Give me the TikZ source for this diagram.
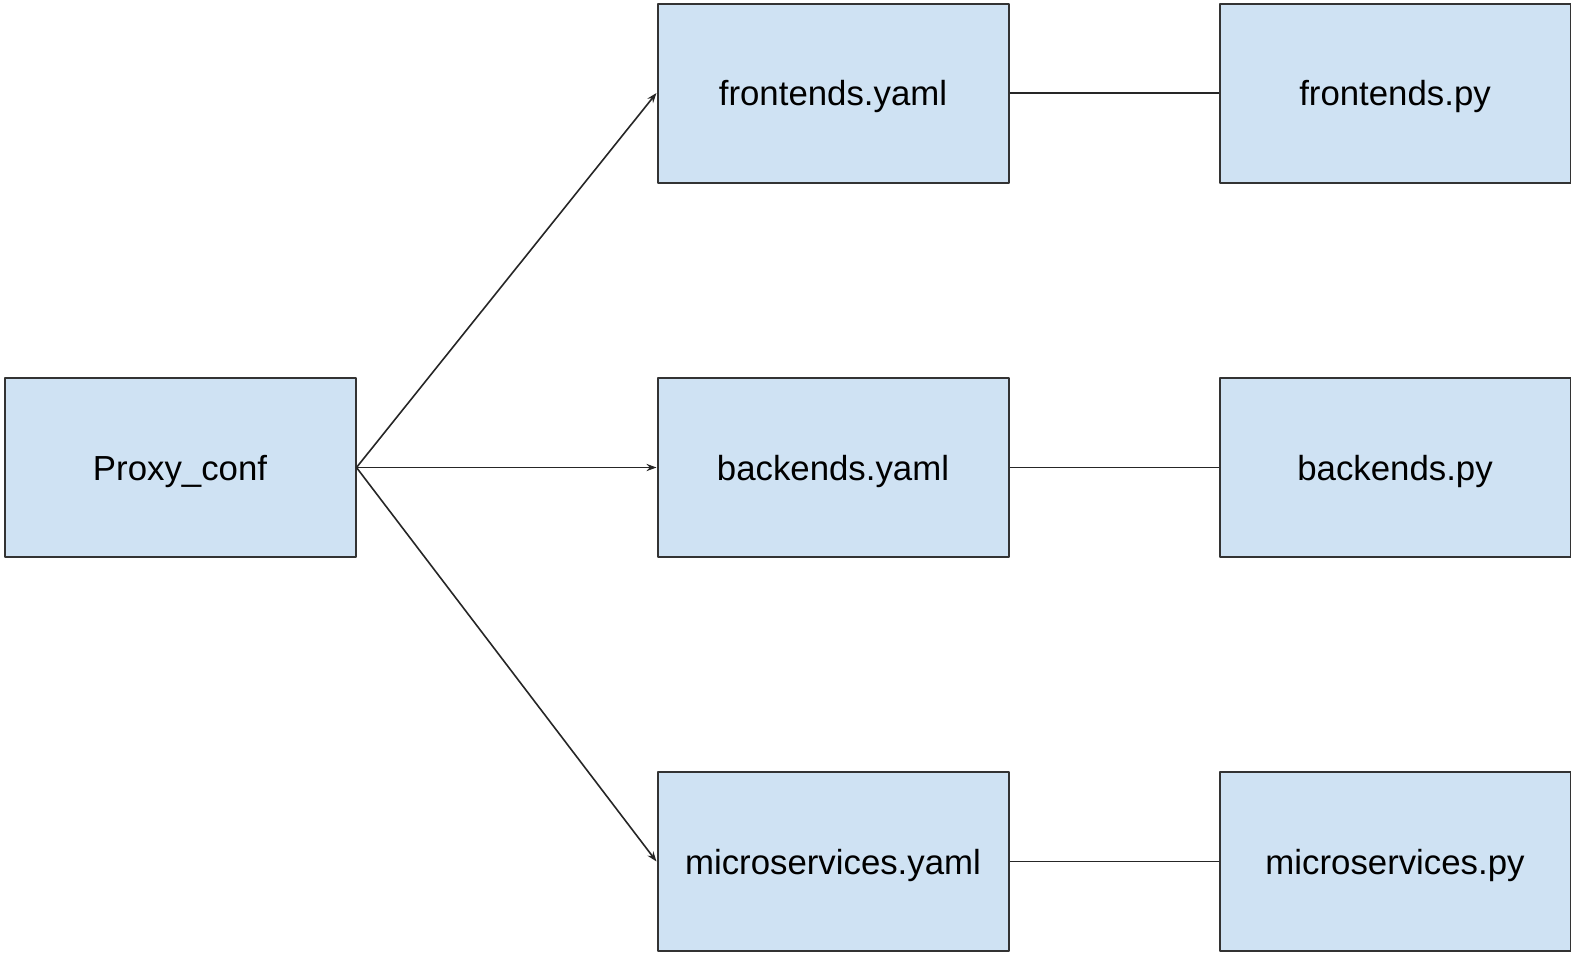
\documentclass[tikz,border=0pt]{standalone}
\usepackage{fontspec}
\setmainfont{Liberation Sans}
\usetikzlibrary{arrows.meta}
\begin{document}
\begin{tikzpicture}[x=0.5pt,y=-0.5pt,>={Stealth[length=5pt,width=3.6pt]},line join=round,
	box/.style={draw=black!80,line width=1pt,fill=boxblue,minimum width=175.5pt,minimum height=89.5pt,inner sep=0pt,text height=12.5pt,text depth=0pt,font=\fontsize{17.4}{20}\selectfont},
	link/.style={draw=black!85,line width=0.8pt}]
		\definecolor{boxblue}{HTML}{CFE2F3}
		\useasboundingbox (0,0) rectangle (1571,954);
		\node[box] (proxy) at (180,467.5) {Proxy\_conf};
		\node[box] (fy) at (833,93) {frontends.yaml};
		\node[box] (by) at (833,467.5) {backends.yaml};
		\node[box] (my) at (833,861.5) {microservices.yaml};
		\node[box] (fp) at (1395,93) {frontends.py};
		\node[box] (bp) at (1395,467.5) {backends.py};
		\node[box] (mp) at (1395,861.5) {microservices.py};
		\draw[link,->] (proxy.east)--(fy.west);
		\draw[link,->] (proxy.east)--(by.west);
		\draw[link,->] (proxy.east)--(my.west);
		\draw[link] (fy)--(fp);
		\draw[link] (by)--(bp);
		\draw[link] (my)--(mp);
		\end{tikzpicture}
\end{document}
